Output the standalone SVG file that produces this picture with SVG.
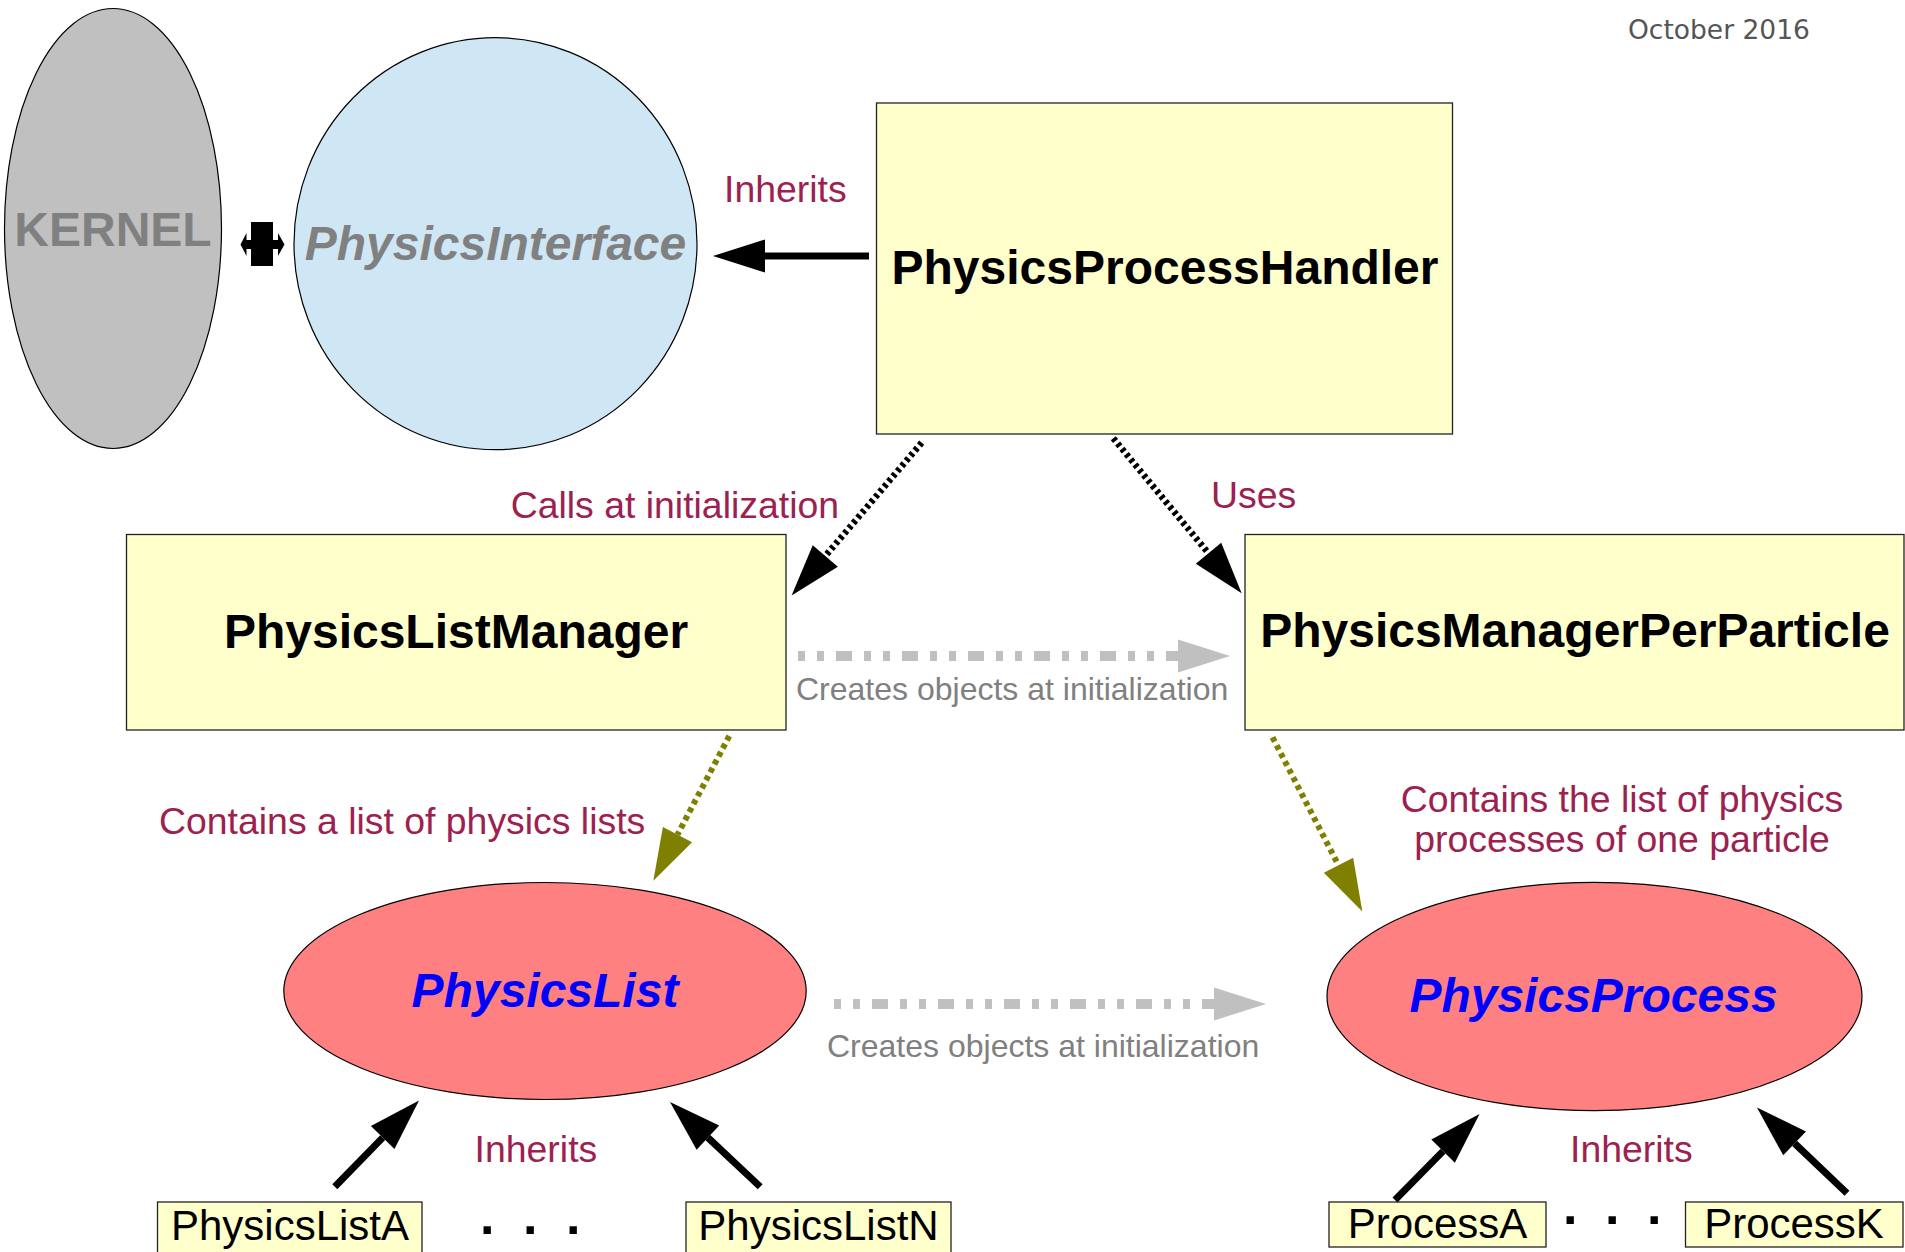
<svg xmlns="http://www.w3.org/2000/svg" width="1905" height="1252" viewBox="0 0 1905 1252">
  <style>
    .box { fill: #ffffcc; stroke: #222; stroke-width: 1.3; }
    .shape { stroke: #000; stroke-width: 1.2; }
    .title { font-family: "Liberation Sans", Arial, sans-serif; font-weight: bold; font-size: 48px; text-anchor: middle; }
    .ital { font-style: italic; }
    .lbl { font-family: "Liberation Sans", Arial, sans-serif; font-size: 37.4px; fill: #9d2150; }
    .note { font-family: "Liberation Sans", Arial, sans-serif; font-size: 32px; fill: #808080; }
    .leaf { font-family: "Liberation Sans", Arial, sans-serif; font-size: 42px; fill: #000; text-anchor: middle; }
    .dots { font-family: "Liberation Sans", Arial, sans-serif; font-weight: bold; font-size: 52px; fill: #000; }
    .solid { stroke: #000; stroke-width: 7; fill: none; }
    .dotted { stroke: #000; stroke-width: 6.5; stroke-dasharray: 3.5 3.3; fill: none; }
    .olive { stroke: #808000; stroke-width: 6; stroke-dasharray: 5 4; fill: none; }
    .gray { stroke: #c0c0c0; stroke-width: 10; stroke-dasharray: 7 12 7 12 16 12; fill: none; }
  </style>
  <defs>
    <marker id="head-black" markerUnits="userSpaceOnUse" markerWidth="60" markerHeight="40" refX="0" refY="0" orient="auto" overflow="visible">
      <path d="M0,-16.5 L52,0 L0,16.5 z" fill="#000"/>
    </marker>
    <marker id="head-olive" markerUnits="userSpaceOnUse" markerWidth="60" markerHeight="40" refX="0" refY="0" orient="auto" overflow="visible">
      <path d="M0,-16.5 L52,0 L0,16.5 z" fill="#808000"/>
    </marker>
    <marker id="head-gray" markerUnits="userSpaceOnUse" markerWidth="60" markerHeight="40" refX="0" refY="0" orient="auto" overflow="visible">
      <path d="M0,-16.5 L52,0 L0,16.5 z" fill="#c0c0c0"/>
    </marker>
  </defs>

  <rect width="1905" height="1252" fill="#fff"/>

  <text x="1628" y="39" font-family="DejaVu Sans, sans-serif" font-size="26.5" fill="#555">October 2016</text>

  <g id="kernel">
    <ellipse class="shape" cx="113" cy="228.5" rx="108.5" ry="220" fill="#c0c0c0"/>
    <text class="title" x="113" y="246" fill="#808080">KERNEL</text>
  </g>

  <g id="physics-interface">
    <ellipse class="shape" cx="495.5" cy="243.7" rx="201.5" ry="206" fill="#cfe7f5"/>
    <text class="title ital" x="495.5" y="260" font-size="47.5" fill="#808080">PhysicsInterface</text>
  </g>

  <g id="physics-process-handler">
    <rect class="box" x="876.5" y="103" width="576" height="331"/>
    <text class="title" x="1165" y="284">PhysicsProcessHandler</text>
  </g>

  <g id="physics-list-manager">
    <rect class="box" x="126.5" y="534.5" width="659.5" height="195.5"/>
    <text class="title" x="456" y="648">PhysicsListManager</text>
  </g>

  <g id="physics-manager-per-particle">
    <rect class="box" x="1245" y="534.5" width="659" height="195.5"/>
    <text class="title" x="1575" y="647">PhysicsManagerPerParticle</text>
  </g>

  <g id="physics-list">
    <ellipse class="shape" cx="545" cy="991" rx="261.2" ry="108.5" fill="#ff8080"/>
    <text class="title ital" x="545" y="1007" fill="#0000ff">PhysicsList</text>
  </g>

  <g id="physics-process">
    <ellipse class="shape" cx="1594.5" cy="996.5" rx="267.5" ry="114.2" fill="#ff8080"/>
    <text class="title ital" x="1593.5" y="1012" fill="#0000ff">PhysicsProcess</text>
  </g>

  <g id="physics-list-a">
    <rect class="box" x="157.5" y="1202" width="264.5" height="60"/>
    <text class="leaf" x="290" y="1240">PhysicsListA</text>
  </g>

  <g id="physics-list-n">
    <rect class="box" x="686" y="1202" width="265" height="60"/>
    <text class="leaf" x="818.5" y="1240">PhysicsListN</text>
  </g>

  <g id="process-a">
    <rect class="box" x="1329" y="1202" width="217" height="45"/>
    <text class="leaf" x="1437.5" y="1238">ProcessA</text>
  </g>

  <g id="process-k">
    <rect class="box" x="1685.5" y="1202" width="217.5" height="45"/>
    <text class="leaf" x="1794" y="1238">ProcessK</text>
  </g>

  <g id="ellipsis">
    <text class="dots" x="480 523 566" y="1234">...</text>
    <text class="dots" x="1563 1605 1647" y="1224">...</text>
  </g>

  <g id="connectors">
    <!-- kernel <-> interface coupling: thick bar with a short double arrow -->
    <path d="M251,222 H273 V240 H278 V233 L284.5,244.5 L278,256 V249 H273 V266 H251 V249 H246.5 V256 L240.5,244.5 L246.5,233 V240 H251 Z" fill="#000"/>

    <!-- handler inherits interface -->
    <line class="solid" x1="869" y1="256" x2="765" y2="256" marker-end="url(#head-black)"/>

    <!-- handler calls list manager / uses per-particle manager -->
    <line class="dotted" x1="921.7" y1="442.7" x2="825.3" y2="556" marker-end="url(#head-black)"/>
    <line class="dotted" x1="1113.3" y1="438.3" x2="1208.5" y2="553.3" marker-end="url(#head-black)"/>

    <!-- creation at initialization -->
    <line class="gray" x1="798" y1="656" x2="1178" y2="656" marker-end="url(#head-gray)"/>
    <line class="gray" x1="834" y1="1004" x2="1214" y2="1004" marker-end="url(#head-gray)"/>

    <!-- containment -->
    <line class="olive" x1="729.3" y1="736" x2="677.5" y2="834.6" marker-end="url(#head-olive)"/>
    <line class="olive" x1="1272.5" y1="737.3" x2="1338.5" y2="865.3" marker-end="url(#head-olive)"/>

    <!-- concrete classes inherit -->
    <line class="solid" x1="334.8" y1="1186.7" x2="382.7" y2="1137.6" marker-end="url(#head-black)"/>
    <line class="solid" x1="760.2" y1="1186.7" x2="707.9" y2="1137.6" marker-end="url(#head-black)"/>
    <line class="solid" x1="1395" y1="1200" x2="1443.1" y2="1151.1" marker-end="url(#head-black)"/>
    <line class="solid" x1="1847" y1="1193.3" x2="1794.6" y2="1143.4" marker-end="url(#head-black)"/>
  </g>

  <g id="labels">
    <text class="lbl" x="724" y="202">Inherits</text>
    <text class="lbl" x="510.7" y="518">Calls at initialization</text>
    <text class="lbl" x="1211" y="508">Uses</text>
    <text class="note" x="796" y="700">Creates objects at initialization</text>
    <text class="lbl" x="159" y="834">Contains a list of physics lists</text>
    <text class="lbl" x="1622" y="812" text-anchor="middle">Contains the list of physics</text>
    <text class="lbl" x="1622" y="852" text-anchor="middle">processes of one particle</text>
    <text class="note" x="827" y="1057">Creates objects at initialization</text>
    <text class="lbl" x="474.6" y="1162">Inherits</text>
    <text class="lbl" x="1570" y="1162">Inherits</text>
  </g>
</svg>
